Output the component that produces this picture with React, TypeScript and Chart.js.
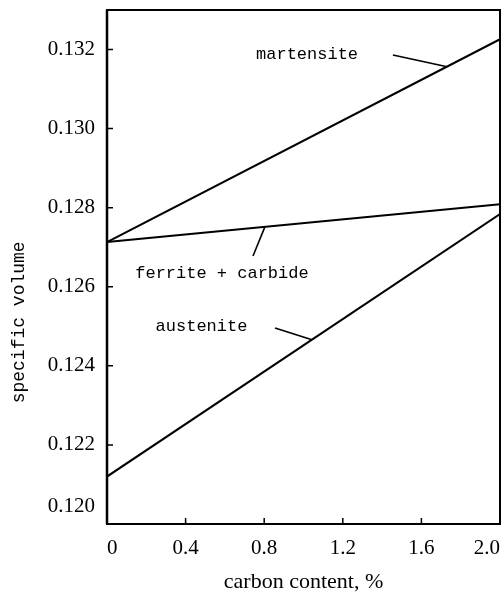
import React, { useEffect, useRef } from 'react';
import { Chart, registerables } from 'chart.js';

Chart.register(...registerables);

// ---- data ----
const carbonContent = [0, 2.0];
const martensite = [0.12713, 0.13226];
const ferriteCarbide = [0.12713, 0.12809];
const austenite = [0.1212, 0.12784];

const xTicks = [0, 0.4, 0.8, 1.2, 1.6, 2.0];
const yTicks = [0.12, 0.122, 0.124, 0.126, 0.128, 0.13, 0.132];

// leader lines (data coordinates)
const martensiteLeaderX = [1.455, 1.725];
const martensiteLeaderY = [0.13186, 0.13157];
const ferriteLeaderX = [0.743, 0.804];
const ferriteLeaderY = [0.12678, 0.12752];
const austeniteLeaderX = [0.855, 1.043];
const austeniteLeaderY = [0.12496, 0.12466];

// curve labels (data coordinates of text centre)
const labelTexts = ['martensite', 'ferrite + carbide', 'austenite'];
const labelX = [1.018, 0.585, 0.481];
const labelY = [0.13188, 0.12633, 0.12499];

const xTitle = 'carbon content, %';
const yTitle = 'specific volume';
const yTitleCentre = 0.1251;

const SERIF = '"Liberation Serif", "DejaVu Serif", serif';
const MONO = '"Liberation Mono", "DejaVu Sans Mono", monospace';

const toPts = (xs: number[], ys: number[]) => xs.map((x, i) => ({ x, y: ys[i] }));

const decorPlugin = {
  id: 'decor',
  afterDraw(chart: any) {
    const { ctx, chartArea: a, scales } = chart;
    const xs = scales.x;
    const ys = scales.y;
    ctx.save();
    ctx.strokeStyle = '#000';
    // frame
    ctx.lineWidth = 2;
    ctx.strokeRect(a.left, a.top, a.right - a.left, a.bottom - a.top);
    ctx.lineWidth = 2.5;
    ctx.beginPath();
    ctx.moveTo(a.left, a.top);
    ctx.lineTo(a.left, a.bottom);
    ctx.stroke();
    // inward ticks
    ctx.lineWidth = 1.5;
    ctx.beginPath();
    yTicks.slice(1).forEach((v) => {
      const p = ys.getPixelForValue(v);
      ctx.moveTo(a.left, p);
      ctx.lineTo(a.left + 6, p);
    });
    xTicks.slice(1, -1).forEach((v) => {
      const p = xs.getPixelForValue(v);
      ctx.moveTo(p, a.bottom);
      ctx.lineTo(p, a.bottom - 6);
    });
    ctx.stroke();
    // corner label for the lowest y tick
    ctx.fillStyle = '#000';
    ctx.font = `21px ${SERIF}`;
    ctx.textAlign = 'right';
    ctx.textBaseline = 'middle';
    ctx.fillText(yTicks[0].toFixed(3), a.left - 12, ys.getPixelForValue(yTicks[0]) - 18);
    // y title
    ctx.font = `18px ${MONO}`;
    ctx.textAlign = 'center';
    ctx.translate(19, ys.getPixelForValue(yTitleCentre));
    ctx.rotate(-Math.PI / 2);
    ctx.fillText(yTitle, 0, 0);
    ctx.restore();

    // curve labels
    ctx.save();
    ctx.fillStyle = '#000';
    ctx.font = `17px ${MONO}`;
    ctx.textAlign = 'center';
    ctx.textBaseline = 'middle';
    labelTexts.forEach((t, i) => {
      ctx.fillText(t, xs.getPixelForValue(labelX[i]), ys.getPixelForValue(labelY[i]));
    });
    ctx.restore();
  },
};

export default function App() {
  const ref = useRef<HTMLCanvasElement | null>(null);

  useEffect(() => {
    if (!ref.current) return;
    const line = (data: any[], w: number) => ({
      data,
      borderColor: '#000',
      backgroundColor: '#000',
      borderWidth: w,
      pointRadius: 0,
      fill: false,
      tension: 0,
    });
    const chart = new Chart(ref.current, {
      type: 'line',
      data: {
        datasets: [
          { label: 'martensite', ...line(toPts(carbonContent, martensite), 2) },
          { label: 'ferrite + carbide', ...line(toPts(carbonContent, ferriteCarbide), 2) },
          { label: 'austenite', ...line(toPts(carbonContent, austenite), 2) },
          { label: 'm-leader', ...line(toPts(martensiteLeaderX, martensiteLeaderY), 1.6) },
          { label: 'f-leader', ...line(toPts(ferriteLeaderX, ferriteLeaderY), 1.6) },
          { label: 'a-leader', ...line(toPts(austeniteLeaderX, austeniteLeaderY), 1.6) },
        ] as any,
      },
      options: {
        animation: false,
        responsive: true,
        maintainAspectRatio: false,
        layout: { padding: { top: 10, right: 3, left: 0, bottom: 0 } },
        plugins: { legend: { display: false }, tooltip: { enabled: false } },
        scales: {
          x: {
            type: 'linear',
            min: 0,
            max: 2.0,
            afterBuildTicks: (s: any) => {
              s.ticks = xTicks.map((v) => ({ value: v }));
            },
            afterFit: (s: any) => {
              s.height = 73;
              s.paddingLeft = 0;
              s.paddingRight = 0;
            },
            grid: { display: false, drawTicks: false },
            border: { display: false },
            ticks: {
              align: 'inner',
              padding: 12,
              color: '#000',
              font: { family: SERIF, size: 21 },
              maxRotation: 0,
              callback: (v: any) => (Number(v) === 0 ? '0' : Number(v).toFixed(1)),
            },
            title: {
              display: true,
              text: xTitle,
              color: '#000',
              font: { family: SERIF, size: 22 },
              padding: { top: 4, bottom: 2 },
            },
          },
          y: {
            type: 'linear',
            min: 0.12,
            max: 0.133,
            afterBuildTicks: (s: any) => {
              s.ticks = yTicks.map((v) => ({ value: v }));
            },
            afterFit: (s: any) => {
              s.width = 107;
              s.paddingTop = 0;
              s.paddingBottom = 0;
            },
            grid: { display: false, drawTicks: false },
            border: { display: false },
            ticks: {
              padding: 12,
              color: '#000',
              font: { family: SERIF, size: 21 },
              callback: (v: any, i: number) => (i === 0 ? '' : Number(v).toFixed(3)),
            },
          },
        },
      } as any,
      plugins: [decorPlugin],
    });
    return () => chart.destroy();
  }, []);

  return (
    <div style={{ position: 'fixed', left: 0, top: 0, width: 503, height: 597, background: '#fff' }}>
      <canvas ref={ref} />
    </div>
  );
}
